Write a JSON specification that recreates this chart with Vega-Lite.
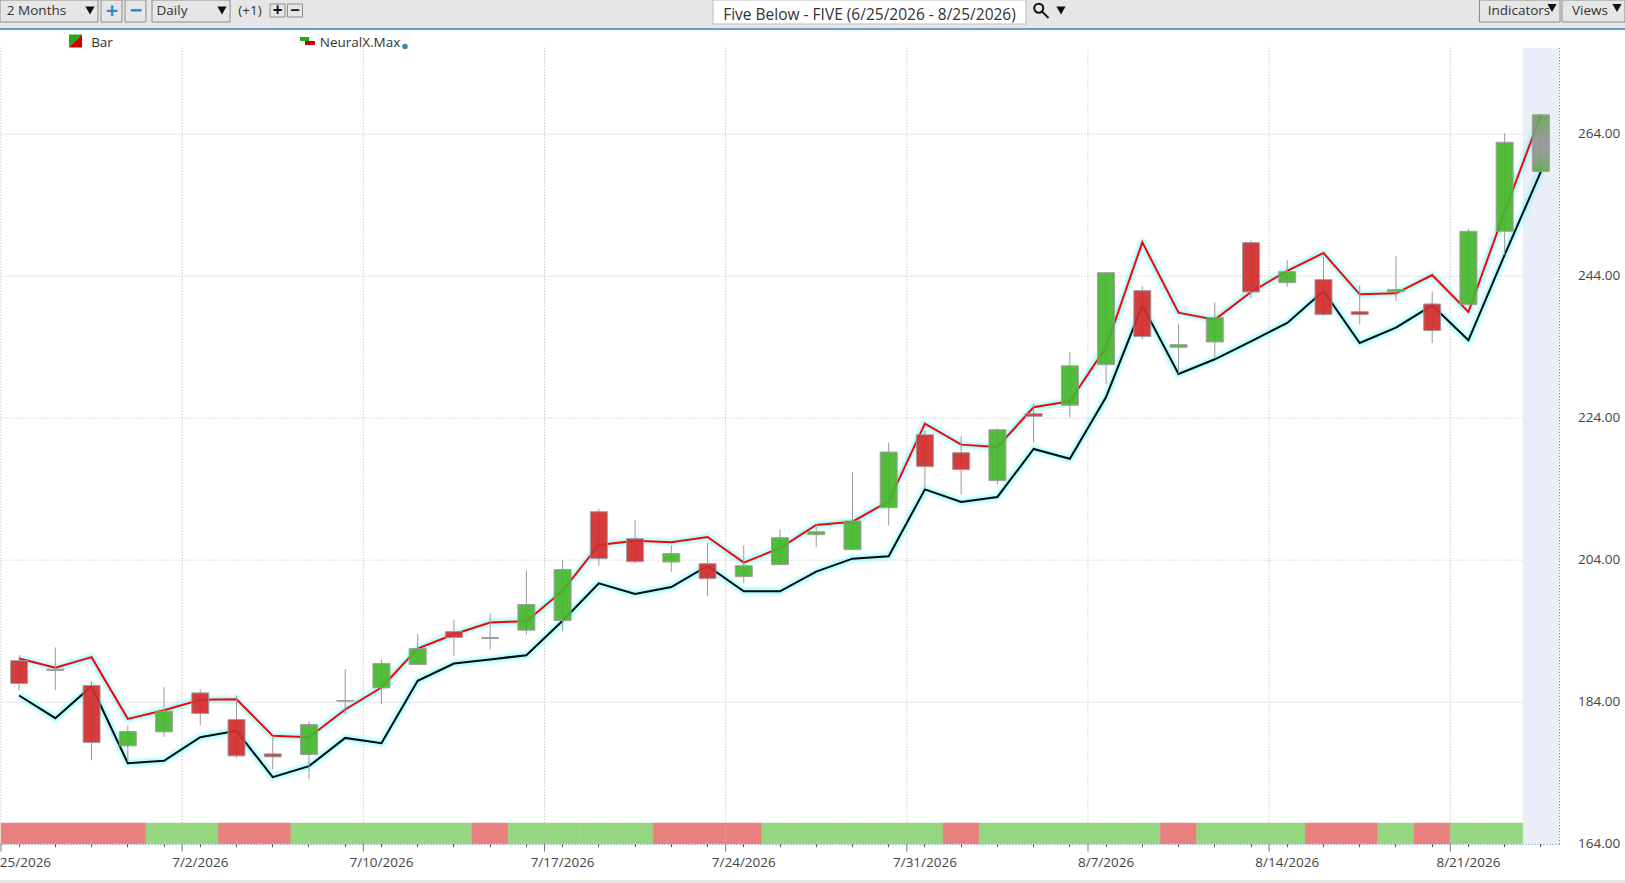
{
  "$schema": "https://vega.github.io/schema/vega-lite/v6.json",
  "width": 1558,
  "height": 796,
  "autosize": {"type": "none"},
  "padding": {"left": 1, "top": 47.7, "right": 66, "bottom": 39.3},
  "background": "#ffffff",
  "config": {"view": {"stroke": null}, "font": "Open Sans"},
  "datasets": {
    "bars": [
      {"date": "6/25/2026", "open": 189.8, "close": 186.56, "high": 190.55, "low": 185.6, "upper": 190.08, "lower": 184.87, "dir": "down", "trend": "down", "major": true},
      {"date": "6/26/2026", "open": 188.58, "close": 188.39, "high": 191.63, "low": 185.62, "upper": 188.77, "lower": 181.68, "dir": "flat", "trend": "down", "major": false},
      {"date": "6/29/2026", "open": 186.28, "close": 178.25, "high": 186.89, "low": 175.76, "upper": 190.27, "lower": 186.18, "dir": "down", "trend": "down", "major": false},
      {"date": "6/30/2026", "open": 177.78, "close": 179.8, "high": 180.69, "low": 175.53, "upper": 181.58, "lower": 175.34, "dir": "up", "trend": "down", "major": false},
      {"date": "7/1/2026", "open": 179.75, "close": 182.66, "high": 186.04, "low": 179.05, "upper": 182.8, "lower": 175.67, "dir": "up", "trend": "up", "major": false},
      {"date": "7/2/2026", "open": 185.24, "close": 182.33, "high": 185.71, "low": 180.69, "upper": 184.26, "lower": 179.0, "dir": "down", "trend": "up", "major": true},
      {"date": "7/6/2026", "open": 181.49, "close": 176.37, "high": 184.87, "low": 176.09, "upper": 184.35, "lower": 179.89, "dir": "down", "trend": "down", "major": false},
      {"date": "7/7/2026", "open": 176.65, "close": 176.23, "high": 179.19, "low": 174.49, "upper": 179.19, "lower": 173.37, "dir": "down", "trend": "down", "major": false},
      {"date": "7/8/2026", "open": 176.56, "close": 180.78, "high": 181.25, "low": 173.08, "upper": 179.0, "lower": 174.92, "dir": "up", "trend": "up", "major": false},
      {"date": "7/9/2026", "open": 184.16, "close": 184.07, "high": 188.58, "low": 182.24, "upper": 182.9, "lower": 178.9, "dir": "flat", "trend": "up", "major": false},
      {"date": "7/10/2026", "open": 185.95, "close": 189.38, "high": 189.94, "low": 183.65, "upper": 186.0, "lower": 178.15, "dir": "up", "trend": "up", "major": true},
      {"date": "7/13/2026", "open": 189.24, "close": 191.49, "high": 193.51, "low": 189.24, "upper": 191.49, "lower": 186.95, "dir": "up", "trend": "up", "major": false},
      {"date": "7/14/2026", "open": 193.88, "close": 193.04, "high": 195.57, "low": 190.46, "upper": 193.5, "lower": 189.38, "dir": "down", "trend": "up", "major": false},
      {"date": "7/15/2026", "open": 193.04, "close": 192.9, "high": 196.42, "low": 191.35, "upper": 195.15, "lower": 189.94, "dir": "flat", "trend": "down", "major": false},
      {"date": "7/16/2026", "open": 194.07, "close": 197.69, "high": 202.52, "low": 193.46, "upper": 195.34, "lower": 190.55, "dir": "up", "trend": "up", "major": false},
      {"date": "7/17/2026", "open": 195.43, "close": 202.62, "high": 203.93, "low": 193.98, "upper": 199.6, "lower": 195.39, "dir": "up", "trend": "up", "major": true},
      {"date": "7/20/2026", "open": 210.76, "close": 204.14, "high": 211.18, "low": 203.1, "upper": 206.07, "lower": 200.67, "dir": "down", "trend": "up", "major": false},
      {"date": "7/21/2026", "open": 206.96, "close": 203.72, "high": 209.54, "low": 203.53, "upper": 206.68, "lower": 199.16, "dir": "down", "trend": "up", "major": false},
      {"date": "7/22/2026", "open": 203.67, "close": 204.85, "high": 206.02, "low": 202.26, "upper": 206.44, "lower": 200.15, "dir": "up", "trend": "down", "major": false},
      {"date": "7/23/2026", "open": 203.44, "close": 201.32, "high": 206.39, "low": 198.88, "upper": 207.19, "lower": 203.11, "dir": "down", "trend": "down", "major": false},
      {"date": "7/24/2026", "open": 201.61, "close": 203.15, "high": 206.02, "low": 200.71, "upper": 203.58, "lower": 199.54, "dir": "up", "trend": "down", "major": true},
      {"date": "7/27/2026", "open": 203.3, "close": 207.1, "high": 208.27, "low": 203.3, "upper": 205.64, "lower": 199.54, "dir": "up", "trend": "up", "major": false},
      {"date": "7/28/2026", "open": 207.52, "close": 207.94, "high": 208.98, "low": 205.78, "upper": 208.88, "lower": 202.31, "dir": "up", "trend": "up", "major": false},
      {"date": "7/29/2026", "open": 205.41, "close": 209.45, "high": 216.3, "low": 205.41, "upper": 209.35, "lower": 204.14, "dir": "up", "trend": "up", "major": false},
      {"date": "7/30/2026", "open": 211.32, "close": 219.16, "high": 220.48, "low": 208.84, "upper": 212.22, "lower": 204.47, "dir": "up", "trend": "up", "major": false},
      {"date": "7/31/2026", "open": 221.6, "close": 217.1, "high": 222.2, "low": 214.0, "upper": 223.15, "lower": 213.9, "dir": "down", "trend": "up", "major": true},
      {"date": "8/3/2026", "open": 219.07, "close": 216.68, "high": 221.37, "low": 213.2, "upper": 220.2, "lower": 212.12, "dir": "down", "trend": "down", "major": false},
      {"date": "8/4/2026", "open": 215.13, "close": 222.3, "high": 222.45, "low": 214.6, "upper": 219.87, "lower": 212.83, "dir": "up", "trend": "up", "major": false},
      {"date": "8/5/2026", "open": 224.56, "close": 224.19, "high": 225.97, "low": 220.48, "upper": 225.46, "lower": 219.59, "dir": "down", "trend": "up", "major": false},
      {"date": "8/6/2026", "open": 225.75, "close": 231.3, "high": 233.2, "low": 224.0, "upper": 226.3, "lower": 218.2, "dir": "up", "trend": "up", "major": false},
      {"date": "8/7/2026", "open": 231.46, "close": 244.42, "high": 244.5, "low": 228.74, "upper": 233.95, "lower": 226.91, "dir": "up", "trend": "up", "major": true},
      {"date": "8/10/2026", "open": 241.89, "close": 235.41, "high": 242.5, "low": 235.03, "upper": 248.69, "lower": 239.82, "dir": "down", "trend": "up", "major": false},
      {"date": "8/11/2026", "open": 233.91, "close": 234.28, "high": 237.24, "low": 230.2, "upper": 238.79, "lower": 230.15, "dir": "up", "trend": "down", "major": false},
      {"date": "8/12/2026", "open": 234.66, "close": 238.08, "high": 240.2, "low": 232.31, "upper": 237.8, "lower": 232.22, "dir": "up", "trend": "up", "major": false},
      {"date": "8/13/2026", "open": 248.65, "close": 241.7, "high": 248.98, "low": 240.85, "upper": 241.7, "lower": 234.75, "dir": "down", "trend": "up", "major": false},
      {"date": "8/14/2026", "open": 243.01, "close": 244.56, "high": 246.25, "low": 242.4, "upper": 244.66, "lower": 237.33, "dir": "up", "trend": "up", "major": true},
      {"date": "8/17/2026", "open": 243.44, "close": 238.51, "high": 246.63, "low": 238.32, "upper": 247.19, "lower": 241.84, "dir": "down", "trend": "down", "major": false},
      {"date": "8/18/2026", "open": 238.93, "close": 238.51, "high": 242.64, "low": 237.15, "upper": 241.37, "lower": 234.52, "dir": "down", "trend": "down", "major": false},
      {"date": "8/19/2026", "open": 241.75, "close": 242.03, "high": 246.72, "low": 240.43, "upper": 241.51, "lower": 236.68, "dir": "up", "trend": "up", "major": false},
      {"date": "8/20/2026", "open": 240.01, "close": 236.25, "high": 241.79, "low": 234.52, "upper": 244.09, "lower": 239.82, "dir": "down", "trend": "down", "major": false},
      {"date": "8/21/2026", "open": 239.92, "close": 250.24, "high": 250.62, "low": 239.9, "upper": 238.88, "lower": 234.89, "dir": "up", "trend": "up", "major": true},
      {"date": "8/24/2026", "open": 250.25, "close": 262.79, "high": 264.06, "low": 246.92, "upper": 253.0, "lower": 246.92, "dir": "up", "trend": "up", "major": false},
      {"date": "8/25/2026", "open": 258.66, "close": 266.64, "high": 266.64, "low": 258.66, "upper": 266.64, "lower": 258.66, "dir": "up", "trend": "none", "major": false}
    ]
  },
  "layer": [
    {
      "data": {"name": "bars"},
      "resolve": {"scale": {"fill": "independent", "stroke": "independent"}},
      "encoding": {
        "x": {
          "field": "date",
          "type": "nominal",
          "sort": null,
          "scale": {
            "type": "band",
            "paddingInner": 0,
            "paddingOuter": 0,
            "domain": ["6/25/2026","6/26/2026","6/29/2026","6/30/2026","7/1/2026","7/2/2026","7/6/2026","7/7/2026","7/8/2026","7/9/2026","7/10/2026","7/13/2026","7/14/2026","7/15/2026","7/16/2026","7/17/2026","7/20/2026","7/21/2026","7/22/2026","7/23/2026","7/24/2026","7/27/2026","7/28/2026","7/29/2026","7/30/2026","7/31/2026","8/3/2026","8/4/2026","8/5/2026","8/6/2026","8/7/2026","8/10/2026","8/11/2026","8/12/2026","8/13/2026","8/14/2026","8/17/2026","8/18/2026","8/19/2026","8/20/2026","8/21/2026","8/24/2026","8/25/2026"]
          },
          "axis": {
            "title": null,
            "grid": false,
            "labelAngle": 0,
            "labelOverlap": false,
            "labelBound": false,
            "labelFlush": false,
            "labelExpr": "indexof(['6/25/2026','7/2/2026','7/10/2026','7/17/2026','7/24/2026','7/31/2026','8/7/2026','8/14/2026','8/21/2026'], datum.value) >= 0 ? datum.value : ''",
            "labelFontSize": 13.5,
            "labelColor": "#444444",
            "labelPadding": 9,
            "tickSize": 3,
            "tickColor": "#555555",
            "domainColor": "#3a80c0",
            "domainDash": [1, 2]
          }
        }
      },
      "layer": [
        {
          "transform": [{"filter": "datum.date == '8/25/2026'"}],
          "mark": {"type": "bar", "fill": "#e9eef7"},
          "encoding": {
            "y": {
              "datum": 164,
              "type": "quantitative",
              "scale": {"domain": [164, 276.1], "nice": false, "zero": false},
              "axis": {
                "title": null,
                "orient": "right",
                "values": [164, 184, 204, 224, 244, 264],
                "format": ".2f",
                "grid": true,
                "gridColor": "#bbbbbb",
                "gridDash": [1, 2],
                "ticks": false,
                "labelFontSize": 13.5,
                "labelColor": "#444444",
                "labelPadding": 18.5,
                "domainColor": "#3a80c0",
                "domainDash": [1, 2]
              }
            },
            "y2": {"datum": 276.1}
          }
        },
        {
          "transform": [{"filter": "datum.trend != 'none'"}],
          "mark": {"type": "bar", "strokeWidth": 0.6},
          "encoding": {
            "y": {"datum": 164, "type": "quantitative"},
            "y2": {"datum": 166.9},
            "fill": {"field": "trend", "type": "nominal", "scale": {"domain": ["up", "down"], "range": ["#95d780", "#e98080"]}, "legend": null},
            "stroke": {"field": "trend", "type": "nominal", "scale": {"domain": ["up", "down"], "range": ["#95d780", "#e98080"]}, "legend": null}
          }
        },
        {
          "transform": [{"filter": "datum.major"}],
          "mark": {"type": "rule", "color": "#b4b4b4", "strokeDash": [1, 2], "strokeWidth": 1},
          "encoding": {
            "x": {"field": "date", "type": "nominal", "bandPosition": 0},
            "y": {"datum": 164, "type": "quantitative"},
            "y2": {"datum": 276.1}
          }
        },
        {
          "transform": [{"filter": "datum.major"}],
          "mark": {"type": "rule", "color": "#777777", "strokeWidth": 1},
          "encoding": {
            "x": {"field": "date", "type": "nominal", "bandPosition": 0},
            "y": {"datum": 162.9, "type": "quantitative"},
            "y2": {"datum": 164}
          }
        },
        {"mark": {"type": "line", "color": "#7ffcff", "strokeWidth": 10, "opacity": 0.22, "strokeJoin": "round"}, "encoding": {"y": {"field": "upper", "type": "quantitative"}}},
        {"mark": {"type": "line", "color": "#7ffcff", "strokeWidth": 6, "opacity": 0.4, "strokeJoin": "round"}, "encoding": {"y": {"field": "upper", "type": "quantitative"}}},
        {"mark": {"type": "line", "color": "#7ffcff", "strokeWidth": 10, "opacity": 0.22, "strokeJoin": "round"}, "encoding": {"y": {"field": "lower", "type": "quantitative"}}},
        {"mark": {"type": "line", "color": "#7ffcff", "strokeWidth": 6, "opacity": 0.4, "strokeJoin": "round"}, "encoding": {"y": {"field": "lower", "type": "quantitative"}}},
        {"mark": {"type": "line", "color": "#ff0000", "strokeWidth": 2}, "encoding": {"y": {"field": "upper", "type": "quantitative"}}},
        {"mark": {"type": "line", "color": "#000a10", "strokeWidth": 2}, "encoding": {"y": {"field": "lower", "type": "quantitative"}}},
        {
          "mark": {"type": "rule", "color": "#999999", "strokeWidth": 1},
          "encoding": {"y": {"field": "low", "type": "quantitative"}, "y2": {"field": "high"}}
        },
        {
          "transform": [{"filter": "datum.date != '8/25/2026'"}],
          "mark": {"type": "bar", "size": 17, "opacity": 0.92, "stroke": "#999999", "strokeWidth": 1},
          "encoding": {
            "y": {"field": "open", "type": "quantitative"},
            "y2": {"field": "close"},
            "fill": {"field": "dir", "type": "nominal", "scale": {"domain": ["up", "down", "flat"], "range": ["#46b72c", "#d32c2c", "#999999"]}, "legend": null}
          }
        },
        {
          "transform": [{"filter": "datum.date == '8/25/2026'"}],
          "mark": {
            "type": "bar",
            "size": 17,
            "stroke": "#999999",
            "strokeWidth": 1,
            "opacity": 0.92,
            "fill": {"x1": 0, "y1": 0, "x2": 0, "y2": 1, "gradient": "linear", "stops": [{"offset": 0, "color": "#63a851"}, {"offset": 0.45, "color": "#949494"}, {"offset": 0.6, "color": "#949494"}, {"offset": 1, "color": "#63a851"}]}
          },
          "encoding": {"y": {"field": "open", "type": "quantitative"}, "y2": {"field": "close"}}
        }
      ]
    },
    {
      "encoding": {
        "x": {
          "field": "xslot",
          "type": "quantitative",
          "axis": null,
          "scale": {
            "nice": false,
            "zero": false,
            "domain": [0,1,2,3,4,5,6,7,8,9,10,11,12,13,14,15,16,17,18,19,20,21,22,23,24,25,26,27,28,29,30,31,32,33,34,35,36,37,38,39,40,41],
            "range": [-1,35.5,74.5,89,97,100,101,111,121,124,135,145,151,171,221,229,249,269,276.5,284,286.5,294,299,301.5,304,308,314,359,404,712,868.5,1025,1040,1060,1478.5,1518,1551,1559,1561,1589,1616,1624]
          }
        },
        "y": {
          "field": "yslot",
          "type": "quantitative",
          "axis": null,
          "scale": {
            "nice": false,
            "zero": false,
            "domain": [0,1,2,3,4,5,6,7,8,9,10,11,12,13,14,15],
            "range": [-47.7,-43.7,-39.7,-37.2,-33.2,-30.7,-25.7,-23.7,-18.7,-10.7,-6.7,-4.7,-2.7,-1.2,832.3,835.3]
          }
        }
      },
      "layer": [
        {
          "data": {"values": [{"xslot": 0, "xend": 41, "yslot": 0, "yend": 8}, {"xslot": 0, "xend": 41, "yslot": 14, "yend": 15}]},
          "mark": {"type": "rect", "fill": "#e6e6e6"},
          "encoding": {"x2": {"field": "xend"}, "y2": {"field": "yend"}}
        },
        {
          "data": {"values": [{"xslot": 0, "xend": 41, "yslot": 8}]},
          "mark": {"type": "rule", "color": "#3a80c0", "strokeWidth": 1.5},
          "encoding": {"x2": {"field": "xend"}}
        },
        {
          "data": {"values": [
            {"xslot": 0, "xend": 4, "yslot": 0, "yend": 6},
            {"xslot": 5, "xend": 8, "yslot": 0, "yend": 6},
            {"xslot": 9, "xend": 11, "yslot": 0, "yend": 6},
            {"xslot": 12, "xend": 15, "yslot": 0, "yend": 6},
            {"xslot": 17, "xend": 19, "yslot": 1, "yend": 5},
            {"xslot": 20, "xend": 23, "yslot": 1, "yend": 5},
            {"xslot": 34, "xend": 37, "yslot": 0, "yend": 6},
            {"xslot": 38, "xend": 41, "yslot": 0, "yend": 6}
          ]},
          "mark": {"type": "rect", "fill": "#e6e6e6", "stroke": "#8c8c8c", "strokeWidth": 1},
          "encoding": {"x2": {"field": "xend"}, "y2": {"field": "yend"}}
        },
        {
          "data": {"values": [{"xslot": 29, "xend": 31, "yslot": 0, "yend": 7}]},
          "mark": {"type": "rect", "fill": "#ffffff", "stroke": "#bbbbbb", "strokeWidth": 1},
          "encoding": {"x2": {"field": "xend"}, "y2": {"field": "yend"}}
        },
        {
          "data": {"values": [
            {"label": "2 Months", "xslot": 1, "yslot": 3},
            {"label": "Daily", "xslot": 13, "yslot": 3},
            {"label": "(+1)", "xslot": 16, "yslot": 3},
            {"label": "Indicators", "xslot": 35, "yslot": 3},
            {"label": "Views", "xslot": 39, "yslot": 3},
            {"label": "Bar", "xslot": 6, "yslot": 11},
            {"label": "NeuralX.Max", "xslot": 27, "yslot": 11}
          ]},
          "mark": {"type": "text", "fontSize": 13.5, "color": "#333333", "align": "center", "baseline": "middle"},
          "encoding": {"text": {"field": "label"}}
        },
        {
          "data": {"values": [{"label": "Five Below - FIVE (6/25/2026 - 8/25/2026)", "xslot": 30, "yslot": 4}]},
          "mark": {"type": "text", "fontSize": 15.5, "color": "#333333", "align": "center", "baseline": "middle"},
          "encoding": {"text": {"field": "label"}}
        },
        {
          "data": {"values": [{"label": "+", "xslot": 7, "yslot": 3}, {"label": "−", "xslot": 10, "yslot": 3}]},
          "mark": {"type": "text", "fontSize": 22, "fontWeight": "bold", "color": "#2a8fd0", "align": "center", "baseline": "middle"},
          "encoding": {"text": {"field": "label"}}
        },
        {
          "data": {"values": [{"label": "+", "xslot": 18, "yslot": 3}, {"label": "−", "xslot": 21, "yslot": 3}]},
          "mark": {"type": "text", "fontSize": 17, "fontWeight": "bold", "color": "#111111", "align": "center", "baseline": "middle"},
          "encoding": {"text": {"field": "label"}}
        },
        {
          "data": {"values": [{"xslot": 3, "yslot": 3}, {"xslot": 14, "yslot": 3}, {"xslot": 33, "yslot": 3}, {"xslot": 36, "yslot": 2}, {"xslot": 40, "yslot": 2}]},
          "mark": {"type": "point", "shape": "triangle-down", "filled": true, "size": 85, "color": "#111111", "opacity": 1}
        },
        {
          "data": {"values": [{"xslot": 32, "yslot": 3}]},
          "mark": {"type": "point", "shape": "M-0.9,-0.3 a0.6,0.6 0 1,0 1.2,0 a0.6,0.6 0 1,0 -1.2,0 M0.15,0.15 L1,1", "filled": false, "size": 225, "color": "#111111", "strokeWidth": 2, "opacity": 1}
        },
        {
          "data": {"values": [{"xslot": 2, "yslot": 10}]},
          "mark": {"type": "point", "shape": "M-1,-1 L1,-1 L-1,1 Z", "filled": true, "size": 169, "color": "#22aa11", "opacity": 1}
        },
        {
          "data": {"values": [{"xslot": 2, "yslot": 10}]},
          "mark": {"type": "point", "shape": "M1,-1 L1,1 L-1,1 Z", "filled": true, "size": 169, "color": "#cc0000", "opacity": 1}
        },
        {
          "data": {"values": [{"xslot": 22, "xend": 25, "yslot": 9, "yend": 10}]},
          "mark": {"type": "rect", "fill": "#22aa11"},
          "encoding": {"x2": {"field": "xend"}, "y2": {"field": "yend"}}
        },
        {
          "data": {"values": [{"xslot": 24, "xend": 26, "yslot": 10, "yend": 12}]},
          "mark": {"type": "rect", "fill": "#cc0000"},
          "encoding": {"x2": {"field": "xend"}, "y2": {"field": "yend"}}
        },
        {
          "data": {"values": [{"xslot": 28, "yslot": 13}]},
          "mark": {"type": "point", "filled": true, "size": 30, "color": "#3d87a8", "opacity": 1}
        }
      ]
    }
  ],
  "resolve": {"scale": {"x": "independent", "y": "independent"}}
}
